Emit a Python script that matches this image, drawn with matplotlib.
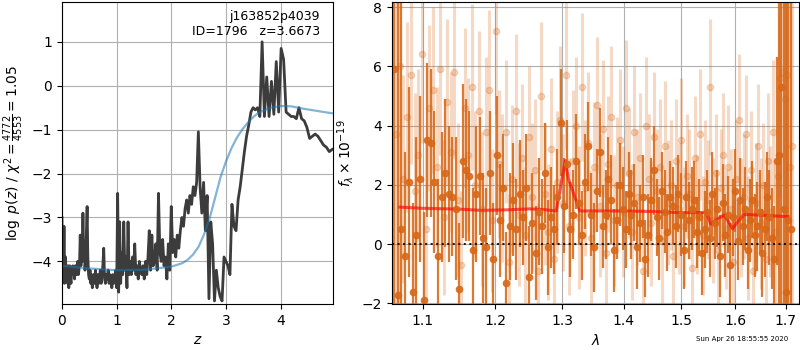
import numpy as np
import matplotlib
matplotlib.use('Agg')
from matplotlib import pyplot as plt

# ---- p(z) on a grid uniform in log(1+z) ----
DLOGZ = 0.009
logpz = [
    -3.0, -4.4, -3.6, -4.3, -3.2, -4.5, -4.2, -3.9, -4.4, -4.1,
    -4.2, -4.5, -4.1, -4.6, -4.3, -4.1, -4.4, -4.5, -4.2, -4.3,
    -4.1, -4.3, -4.2, -4.4, -4.1, -4.2, -4.3, -4.1, -4.0, -4.3,
    -4.2, -4.0, -3.4, -4.1, -3.5, -4.0, -2.9, -3.9, -3.6, -4.2,
    -3.9, -3.3, -2.75, -3.9, -4.3, -4.4, -4.2, -4.5, -4.3, -4.6,
    -4.4, -4.3, -4.5, -4.2, -4.4, -4.6, -4.3, -4.5, -4.4, -4.2,
    -4.5, -4.3, -4.1, -3.7, -4.4, -4.5, -4.3, -4.4, -4.2, -4.5,
    -4.3, -4.4, -4.6, -4.3, -4.5, -4.4, -4.2, -4.6, -2.45, -4.7,
    -3.1, -4.5, -3.8, -4.3, -3.1, -4.2, -3.9, -4.6, -3.1, -4.3,
    -4.0, -4.3, -3.9, -4.2, -3.6, -4.3, -4.1, -4.4, -4.0, -4.2,
    -4.3, -4.1, -4.4, -4.0, -4.3, -3.9, -3.3, -4.2, -3.4, -4.1,
    -4.0, -3.6, -4.2, -2.45, -3.8, -4.0, -3.5, -4.1, -3.9, -4.4,
    -3.6, -4.2, -2.75, -3.8, -3.5, -3.9, -3.4, -3.7, -3.3, -3.0,
    -3.2, -2.8, -2.6, -2.9, -2.5, -2.7, -2.3, -2.5, -2.2, -1.05,
    -2.3, -2.9, -2.2, -3.3, -2.5, -4.85, -3.1, -3.6, -4.9, -4.2,
    -4.6, -4.8, -4.9, -3.9, -4.0, -4.1, -4.3, -2.7, -3.2, -3.3,
    -2.6, -2.3, -1.9, -1.5, -1.15, -0.9, -0.6, -0.5, -0.55, -0.5,
    -0.7, 1.0, -0.7, 0.2, -0.7, 0.1, -0.65, 0.55, -0.6, 0.85,
    0.6, -0.6, -0.65, -0.7, -0.7, -0.75, -0.5, -0.75, -0.8, -0.95,
    -1.2, -1.15, -1.1, -1.15, -1.25, -1.35, -1.4, -1.5, -1.45,
]
zgrid = np.exp(DLOGZ * np.arange(len(logpz))) - 1

prior_z = [0.0, 0.5, 1.0, 1.5, 2.0, 2.2, 2.3, 2.4, 2.5, 2.6, 2.7, 2.8, 2.9,
           3.0, 3.1, 3.2, 3.3, 3.4, 3.5, 3.6, 3.8, 4.0, 4.2, 4.4, 4.6, 4.8,
           4.96]
prior_logp = [-4.10, -4.16, -4.20, -4.19, -4.12, -4.04, -3.96, -3.84, -3.66,
              -3.38, -3.02, -2.55, -2.08, -1.72, -1.42, -1.18, -0.99, -0.84,
              -0.71, -0.61, -0.51, -0.46, -0.47, -0.52, -0.56, -0.60, -0.63]

# ---- 1D spectra, flux in 1e-19 units ----
flux_a = [
    5.9, -1.7, 0.5, -0.4, 2.1, -1.6, 0.3, 2.2, -1.9, 3.5,
    3.4, 2.1, -0.4, 1.6, 2.4, 1.7, 1.6, 1.2, -1.5, 2.8,
    2.5, 2.3, -0.2, 1.7, 2.3, 0.2, -0.1, 2.4, -0.5, 3.0,
    0.8, 1.9, -1.3, 0.6, 1.5, 0.5, 1.7, 0.9, 1.9, -1.1,
    0.7, -0.3, 1.1, 0.6, 2.4, -0.1, 0.9, 0.5, 1.6, 4.1,
    1.3, 2.7, 0.5, 1.0, 2.8, 1.4, 0.3, 2.1, 3.3, 1.0,
    -0.1, 1.8, 3.1, 0.6, 1.0, 2.2, 1.5, -0.2, 0.8, 2.0,
    1.2, 0.5, 1.7, 1.0, 1.4, -0.1, 0.7, 1.6, -0.5, 0.3,
    1.5, 2.5, 0.9, 0.2, 1.8, 1.1, 0.4, 1.6, 1.3, 0.6,
    1.7, 1.0, -0.2, 1.6, 0.8, 1.2, 1.5, 0.4, 0.9, -0.3,
    0.5, 1.1, 0.2, 1.7, 0.7, 1.2, -0.4, 1.4, 0.3, 1.0,
    -0.7, 0.9, 1.8, 0.1, 1.5, 0.6, 1.2, -0.2, 0.8, 1.5,
    0.3, 0.6, 1.1, -0.3, 0.5, 1.6, 0.9, 0.2, -0.5, 2.8,
    3.0, 5.3, 1.2, -1.6, 0.8, 0.5,
]
err_a = [
    12, 12, 9, 3.5, 3.2, 3.0, 3.3, 2.8, 3.0, 2.6,
    2.5, 2.4, 2.6, 2.2, 2.5, 2.3, 2.0, 2.4, 2.2, 2.6,
    2.4, 2.2, 2.1, 2.3, 2.0, 2.2, 2.0, 2.1, 1.9, 2.0,
    1.9, 1.8, 1.7, 1.8, 1.9, 1.7, 1.8, 1.6, 1.8, 1.7,
    1.7, 1.6, 1.8, 1.6, 1.7, 1.6, 1.7, 1.5, 1.6, 1.8,
    1.6, 1.5, 1.6, 1.5, 1.6, 1.4, 1.5, 1.6, 1.5, 1.4,
    1.5, 1.4, 1.5, 1.4, 1.5, 1.4, 1.5, 1.4, 1.3, 1.4,
    1.4, 1.3, 1.4, 1.5, 1.3, 1.4, 1.3, 1.4, 1.3, 1.4,
    1.4, 1.5, 1.3, 1.4, 1.3, 1.4, 1.3, 1.2, 1.3, 1.4,
    1.3, 1.4, 1.3, 1.2, 1.3, 1.4, 1.3, 1.2, 1.3, 1.4,
    1.3, 1.4, 1.3, 1.4, 1.2, 1.3, 1.4, 1.3, 1.4, 1.3,
    1.4, 1.3, 1.4, 1.3, 1.4, 1.3, 1.4, 1.3, 1.4, 1.3,
    1.4, 1.5, 1.4, 1.5, 1.6, 1.5, 1.6, 1.7, 1.8, 3.5,
    6, 12, 9, 12, 12, 12,
]
flux_b = [
    3.7, 6.0, 2.2, 4.3, 5.7, 1.8, 3.0, 6.4, 0.5, 4.6,
    5.2, 2.6, 5.9, 0.9, 4.8, 3.1, 5.8, 1.5, -0.7, 4.6,
    3.0, 5.3, 2.0, 4.5, 1.2, 3.8, 5.2, 0.8, 7.2, 2.7,
    1.9, 3.8, -0.6, 2.2, 4.5, 1.0, 2.9, 0.3, 3.6, 1.6,
    2.5, -0.9, 5.0, 1.7, 0.4, 3.2, -0.5, 2.1, 4.2, 1.4,
    5.7, 0.6, 2.8, 4.0, 0.9, 5.3, 1.9, 3.4, 0.2, 2.6,
    4.7, 1.3, 3.9, -0.3, 2.7, 4.3, 0.8, 2.0, 3.5, 1.1,
    4.6, 2.4, 0.4, 3.8, 1.6, 2.9, -0.9, 4.0, 2.2, 0.7,
    3.6, 1.8, 2.6, 0.1, 3.3, 1.4, 2.0, -0.4, 2.8, 1.2,
    3.5, 0.6, 2.3, 1.7, -0.8, 2.9, 1.0, 3.7, 0.3, 2.1,
    1.5, 5.3, 0.8, 2.4, -0.2, 1.9, 3.0, 0.5, 2.6, 1.2,
    -0.6, 2.2, 4.2, 0.9, 1.6, 3.7, 0.2, 2.5, -0.9, 1.4,
    3.3, 0.7, 2.0, -0.5, 2.8, 1.1, 3.8, 0.4, 2.3, 5.6,
    5.8, 4.9, 5.7, 2.6, 3.3,
]
err_b = [
    12, 10, 3.5, 3.2, 3.0, 3.3, 2.9, 3.0, 3.1, 2.8,
    2.8, 2.7, 2.9, 2.6, 2.8, 2.7, 2.9, 2.6, 2.5, 2.7,
    2.6, 2.8, 2.5, 2.7, 2.6, 2.5, 2.7, 2.4, 2.8, 2.5,
    2.5, 2.4, 2.3, 2.5, 2.6, 2.4, 2.5, 2.3, 2.4, 2.5,
    2.4, 2.3, 2.5, 2.4, 2.3, 2.4, 2.3, 2.4, 2.5, 2.3,
    2.5, 2.3, 2.4, 2.3, 2.4, 2.5, 2.3, 2.4, 2.3, 2.2,
    2.3, 2.4, 2.3, 2.2, 2.3, 2.4, 2.2, 2.3, 2.4, 2.2,
    2.3, 2.2, 2.3, 2.2, 2.3, 2.2, 2.1, 2.3, 2.2, 2.1,
    2.2, 2.1, 2.3, 2.1, 2.2, 2.1, 2.2, 2.0, 2.1, 2.2,
    2.1, 2.0, 2.1, 2.2, 2.0, 2.1, 2.0, 2.2, 2.0, 2.1,
    2.0, 2.3, 2.1, 2.0, 2.1, 2.0, 2.1, 2.0, 2.1, 2.0,
    2.1, 2.0, 2.2, 2.0, 2.1, 2.0, 2.1, 2.0, 2.1, 2.0,
    2.1, 2.2, 2.1, 2.2, 2.3, 2.2, 2.4, 2.5, 3.0, 4.0,
    8, 12, 12, 12, 12,
]
# both beams are sampled on a regular pixel grid (microns)
wave_a = np.linspace(1.0625, 1.7105, len(flux_a))
wave_b = np.linspace(1.0650, 1.7130, len(flux_b))

model_wave = [1.070, 1.100, 1.150, 1.180, 1.220, 1.250, 1.270, 1.291, 1.305,
              1.310, 1.315, 1.328, 1.400, 1.450, 1.500, 1.546, 1.554, 1.566,
              1.579, 1.586, 1.595, 1.607, 1.618, 1.650, 1.680, 1.705]
model_flux = [1.25, 1.21, 1.18, 1.14, 1.16, 1.19, 1.17, 1.12, 2.82, 2.20, 1.90,
              1.12, 1.12, 1.10, 1.06, 1.07, 0.68, 0.84, 0.98, 0.80, 0.52, 0.80,
              1.00, 0.98, 0.95, 0.93]

wave_ticks = [1.1, 1.2, 1.3, 1.4, 1.5, 1.6, 1.7]
SPEC_COLOR = '#d86818'

fig = plt.figure(figsize=(8, 3.5), dpi=100)

# p(z) panel
ax = fig.add_axes([0.0775, 0.1314, 0.339, 0.862])
ax.plot(zgrid, logpz, color='#3c3c3c', lw=2)
ax.plot(prior_z, prior_logp, color='tab:blue', alpha=0.55, lw=1.6)
ax.set_xlim(0, 4.96)
ax.set_ylim(-4.97, 1.9)
ax.grid(True)
ax.set_xlabel(r'$z$')
ax.set_ylabel(r'$\log\ p(z)$' + ' / ' + r'$\chi^2=\frac{4772}{4553}=1.05$')
ax.text(0.95, 0.975, 'j163852p4039\nID=1796   z=3.6673', transform=ax.transAxes,
        ha='right', va='top', fontsize=9)

# spectrum panel
ax2 = fig.add_axes([0.49, 0.1314, 0.509, 0.862])
ax2.errorbar(wave_b, flux_b, yerr=err_b, fmt='o', color=SPEC_COLOR, alpha=0.25,
             ms=4.5, elinewidth=2.2, capsize=0)
ax2.errorbar(wave_a, flux_a, yerr=err_a, fmt='o', color=SPEC_COLOR, alpha=0.88,
             ms=4.5, elinewidth=1.6, capsize=0)
ax2.plot(model_wave, model_flux, color='red', alpha=0.65, lw=2.2)
ax2.axhline(0, color='k', ls=':', lw=1.5, alpha=0.85)
ax2.set_xscale('log')
ax2.set_xlim(1.06, 1.728)
ax2.set_ylim(-2.02, 8.16)
ax2.set_xticks(wave_ticks)
ax2.set_xticklabels([f'{w:.1f}' for w in wave_ticks])
ax2.minorticks_off()
ax2.grid(True)
ax2.set_xlabel(r'$\lambda$')
ax2.set_ylabel(r'$f_\lambda \times 10^{-19}$')

fig.text(0.985, 0.022, 'Sun Apr 26 18:55:55 2020', ha='right', va='bottom',
         fontsize=5)

fig.savefig('out.png', dpi=100)
